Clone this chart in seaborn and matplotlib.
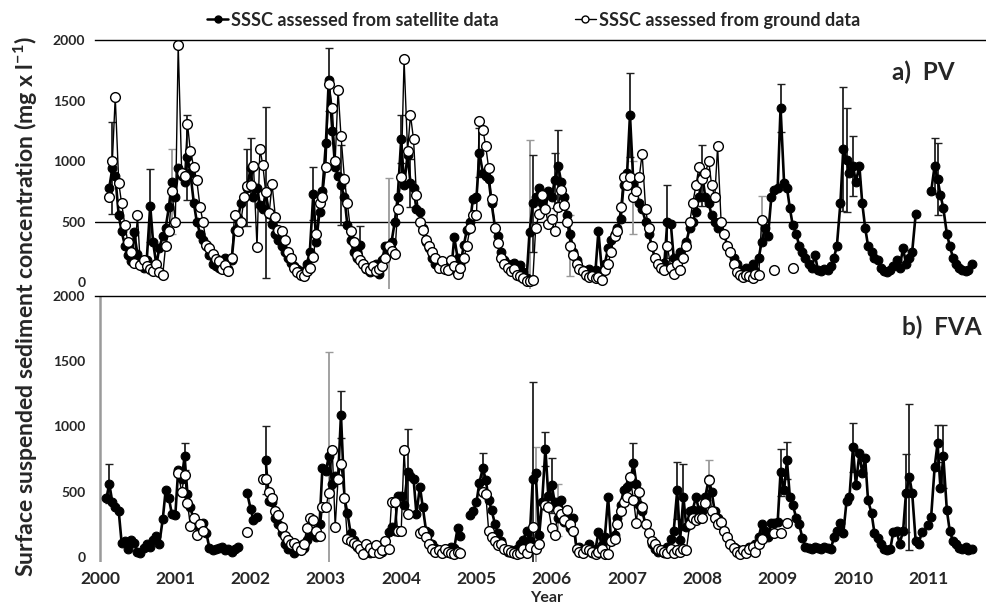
import numpy as np
import pandas as pd
import matplotlib
matplotlib.use('Agg')
import matplotlib.pyplot as plt
import seaborn as sns
from matplotlib.lines import Line2D

nan = np.nan

# semi-monthly sampling dates (1st and 15th of each month)
dates = pd.date_range('2000-01-01', '2011-08-01', freq='SMS')

# a) PV - SSSC from satellite data (mg/l)
pv_sat = [
    nan, nan, nan, 780, 940, 880, 550, 420, 300, 220, 170, 410, 230, 140, 120, 180, 630, 330, 140, 280, 380, 450, 620, 830,  # 2000
    700, 940, 880, 830, 1030, 900, 650, 500, 400, 350, 300, 220, 150, 130, 120, 140, 200, 110, 180, 430, 530, 650, 700, 780,  # 2001
    940, 700, 780, 640, 600, 740, 560, 480, 400, 350, 300, 250, 200, 160, 130, 110, 90, 70, 150, 250, 730, 330, 580, 750,  # 2002
    1150, 1670, 1250, 950, 880, 800, 700, 470, 350, 250, 200, 310, 150, 110, 80, 100, 150, 70, 180, 300, 260, 330, 500, 700,  # 2003
    1180, 800, 1050, 820, 780, 600, 580, 450, 330, 280, 200, 150, 160, 130, 140, 120, 110, 370, 200, 150, 310, 430, 500, 690,  # 2004
    700, 1070, 900, 880, 850, 650, 450, 380, 250, 180, 150, 130, 160, 110, 140, 80, 30, 410, 650, 700, 780, 650, 600, 750,  # 2005
    700, 840, 960, 830, 700, 550, 400, 250, 180, 120, 100, 90, 110, 80, 100, 420, 90, 150, 280, 350, 400, 450, 520, 800,  # 2006
    900, 1380, 800, 750, 650, 600, 500, 400, 300, 200, 150, 130, 160, 500, 480, 200, 130, 250, 200, 330, 450, 500, 580, 700,  # 2007
    880, 700, 650, 550, 500, 450, 500, 400, 300, 250, 200, 150, 100, 90, 120, 100, 150, 90, 200, 330, 450, 380, 700, 760,  # 2008
    780, 1440, 820, 780, 610, 470, 400, 300, 250, 200, 150, 120, 220, 100, 90, 110, 100, 130, 200, 300, 650, 1100, 1010, 900,  # 2009
    960, 830, 960, 650, 450, 300, 250, 200, 180, 120, 90, 80, 100, 130, 180, 120, 280, 150, 200, 250, 560, nan, nan, nan,  # 2010
    nan, 750, 960, 850, 720, 610, 400, 300, 200, 150, 120, 100, 90, 100, 150,  # 2011
]

# a) PV - SSSC from ground data
pv_gnd = [
    nan, nan, nan, 700, 1000, 1530, 820, 650, 470, 330, 250, 160, 550, 140, 180, 130, 110, 90, 150, 80, 60, 300, 420, 750,  # 2000
    500, 1960, 900, 880, 1310, 1080, 950, 840, 620, 500, 310, 280, 230, 190, 170, 110, 140, 90, 200, 550, 420, 500, 700, 790,  # 2001
    800, 960, 290, 1100, 970, 745, 570, 810, 540, 430, 420, 350, 250, 200, 120, 80, 60, 50, 90, 120, 210, 400, 650, 700,  # 2002
    950, 1640, 1440, 1000, 1590, 1210, 850, 650, 420, 330, 220, 180, 150, 120, 100, 130, 90, 110, 130, 200, 300, 260, 230, 600,  # 2003
    870, 1840, 1080, 1380, 1180, 720, 500, 430, 350, 300, 250, 200, 120, 170, 110, 100, 180, 130, 70, 120, 200, 300, 450, 550,  # 2004
    550, 1330, 1260, 1120, 940, 690, 445, 320, 200, 150, 120, 90, 110, 60, 50, 30, 10, 10, 20, 450, 560, 720, 600, 480,  # 2005
    520, 420, 620, 760, 640, 500, 300, 220, 150, 110, 90, 60, 40, 50, 30, 40, 20, 100, 150, 250, 380, 420, 620, 870,  # 2006
    800, 870, 700, 750, 870, 1060, 600, 450, 300, 200, 150, 120, 100, 300, 120, 70, 150, 100, 200, 300, 500, 650, 800, 950,  # 2007
    850, 900, 1000, 800, 700, 1120, 500, 400, 300, 250, 150, 80, 60, 40, 60, 50, 30, 70, 60, 510, nan, nan, nan, 100,  # 2008
    nan, nan, nan, nan, nan, 120] + [nan] * 18 + [nan] * 24 + [nan] * 15

# b) FVA - SSSC from satellite data
fva_sat = [
    nan, nan, 450, 560, 420, 380, 350, 110, 120, 60, 130, 110, 40, 30, 70, 100, 80, 130, 160, 100, 290, 510, 450, 330,  # 2000
    320, 670, 600, 770, 480, 380, 280, 250, 200, 260, 180, 70, 50, 60, 70, 80, 50, 60, 40, 60, 80, nan, nan, 490,  # 2001
    370, 280, 310, nan, nan, 740, 430, 420, 300, 250, 180, 100, 60, 80, 30, 60, 90, 70, 130, 170, 200, 150, 250, 680,  # 2002
    660, 770, 560, 620, 600, 1090, 450, 340, 180, 130, 80, 60, 40, 70, 30, 50, 60, 80, 40, 70, 190, 230, 200, 470,  # 2003
    470, 400, 650, 620, 600, 330, 540, 380, 200, 180, 100, 70, 50, 40, 60, 50, 80, 70, 220, 160, nan, nan, 320, 350,  # 2004
    420, 570, 680, 590, 440, 360, 250, 180, 120, 60, 40, 50, 30, 60, 100, 130, 200, 120, 600, 640, 170, 420, 830, 470,  # 2005
    550, 420, 300, 440, 270, 350, 220, 300, 60, 80, 40, 60, 100, 30, 60, 190, 90, 150, 460, 130, 170, 300, 400, 510,  # 2006
    540, 565, 720, 560, 400, 350, 250, 180, 100, 60, 40, 50, 30, 80, 140, 200, 510, 130, 460, 230, 350, 360, 460, 360,  # 2007
    350, 460, 600, 500, 350, 300, 250, 200, 150, 100, 80, 60, 40, 50, 30, 80, 60, 100, 150, 250, 200, 150, 260, 260,  # 2008
    270, 650, 510, 740, 460, 400, 300, 250, 145, 80, 70, 60, 80, 70, 60, 80, 70, 60, 150, 200, 260, 180, 430, 460,  # 2009
    840, 550, 795, 640, 760, 435, 335, 185, 145, 100, 60, 50, 60, 190, 200, 100, 200, 490, 615, 490, 120, 100, 190, nan,  # 2010
    245, 310, 690, 870, 530, 770, 360, 200, 120, 100, 70, 60, 80, 50, 60,  # 2011
]

# b) FVA - SSSC from ground data
fva_gnd = [nan] * 24 + [  # 2000
    nan, 640, 500, 630, 410, 240, 300, 170, 250, 200] + [nan] * 13 + [190] + [  # 2001
    nan, nan, nan, nan, 600, 600, 500, 450, 350, 320, 230, 160, 130, 100, 110, 80, 50, 100, 220, 300, 280, 200, 160, 380,  # 2002
    380, 490, 820, 230, 600, 710, 450, 140, 120, 110, 90, 60, 20, 100, 70, 40, 90, 30, 50, 120, 60, 420, 420, 200,  # 2003
    200, 820, 330, nan, nan, nan, 180, 200, 150, 100, 60, 40, 50, 30, 60, 40, 30, 20, 40, 30, nan, nan, nan, nan,  # 2004
    nan, nan, 500, 480, 200, 150, 120, 90, 100, 60, 50, 40, 30, 20, 30, 60, 30, 80, 230, 60, 100, nan, 400, 380,  # 2005
    220, 170, 360, 330, 280, 360, 250, 200, 60, 40, 30, 60, 50, 40, 20, 40, 60, 20, 20, 120, 140, 250, 350, 420,  # 2006
    460, 615, 440, 260, 500, 380, 250, 180, 120, 100, 60, 50, 40, 30, 60, 30, 50, 40, 60, 50, 250, 300, 280, 300,  # 2007
    300, 410, 590, 350, 300, 250, 270, 200, 150, 100, 70, 40, 20, 50, 30, 60, 80, 40, 100, 140, nan, nan, nan, 180,  # 2008
    nan, 180, nan, 260] + [nan] * 20 + [nan] * 24 + [nan] * 15

# the longer error bars (half widths, mg/l)
pv_sat_err_dates = ['2000-03-01', '2000-09-01', '2001-03-01', '2001-12-15', '2002-01-01', '2002-03-15',
                    '2002-11-01', '2003-01-15', '2003-03-15', '2003-06-15', '2004-01-01', '2004-02-15',
                    '2005-01-15', '2005-10-01', '2006-01-15', '2006-02-01', '2007-01-15', '2007-07-15',
                    '2008-01-01', '2009-01-15', '2009-11-15', '2009-12-01', '2010-01-01', '2011-02-01',
                    '2011-02-15']
pv_sat_err = [380, 300, 350, 320, 250, 710, 220, 260, 330, 150, 200, 200, 200, 400, 230, 300, 350, 300,
              250, 200, 510, 430, 250, 230, 300]
pv_gnd_err_dates = ['2000-12-15', '2003-11-01', '2005-09-15', '2007-02-01', '2006-04-01', '2008-10-15']
pv_gnd_err = [350, 560, 1160, 300, 250, 200]

fva_sat_err_dates = ['2000-02-15', '2001-02-15', '2002-03-15', '2003-03-15', '2004-02-01', '2005-02-01',
                     '2005-10-01', '2005-12-01', '2006-01-01', '2007-02-01', '2007-09-01', '2007-10-01',
                     '2009-01-15', '2009-02-15', '2010-01-01', '2010-09-15', '2010-10-01', '2011-02-15',
                     '2011-03-15']
fva_sat_err = [150, 100, 260, 180, 330, 120, 740, 130, 210, 150, 220, 250, 180, 140, 190, 300, 560, 140, 240]
fva_gnd_err_dates = ['2003-01-15', '2005-10-15', '2006-02-01', '2008-02-01']
fva_gnd_err = [1080, 780, 200, 150]

years = list(range(2000, 2012))

sns.set_style('white')
plt.rcParams['font.family'] = ['Lato', 'DejaVu Sans']
plt.rcParams['font.weight'] = 'bold'
plt.rcParams['mathtext.fontset'] = 'custom'
plt.rcParams['mathtext.rm'] = 'Lato:bold'
plt.rcParams['mathtext.default'] = 'rm'

t = dates.year + (dates.dayofyear - 1) / np.where(dates.is_leap_year, 366, 365)
t_ser = pd.Series(np.asarray(t), index=dates)

sat_style = dict(color='black', lw=1.9, marker='o', markersize=6.3, markerfacecolor='black',
                 markeredgecolor='black', markeredgewidth=0.8)
gnd_style = dict(color='black', lw=1.0, marker='o', markersize=7, markerfacecolor='white',
                 markeredgecolor='black', markeredgewidth=1.0)


def draw_series(ax, vals, style):
    df = pd.DataFrame({'t': np.asarray(t), 'v': vals})
    df['seg'] = df['v'].isna().cumsum()
    df = df.dropna()
    sns.lineplot(data=df, x='t', y='v', units='seg', estimator=None, sort=False,
                 legend=False, ax=ax, **style)


def draw_errors(ax, vals, err_dates, err_vals, color):
    s = pd.Series(vals, index=dates)
    idx = pd.to_datetime(err_dates)
    ax.errorbar(t_ser[idx].values, s[idx].values, yerr=err_vals, fmt='none', ecolor=color,
                elinewidth=1.3, capsize=3, capthick=1.0, zorder=1)


fig = plt.figure(figsize=(9.87, 6.07), dpi=100)
ax1 = fig.add_axes([0.0963, 0.5234, 0.9037, 0.4107])
ax2 = fig.add_axes([0.0963, 0.0738, 0.9037, 0.4386])

for ax, sat, gnd, se_d, se, ge_d, ge, ymin in [
        (ax1, pv_sat, pv_gnd, pv_sat_err_dates, pv_sat_err, pv_gnd_err_dates, pv_gnd_err, -60),
        (ax2, fva_sat, fva_gnd, fva_sat_err_dates, fva_sat_err, fva_gnd_err_dates, fva_gnd_err, -40)]:
    draw_errors(ax, gnd, ge_d, ge, '#9a9a9a')
    draw_errors(ax, sat, se_d, se, '#202020')
    draw_series(ax, sat, sat_style)
    draw_series(ax, gnd, gnd_style)
    ax.set_xlim(1999.934, 2011.78)
    ax.set_ylim(ymin, 2000)
    ax.set_yticks([0, 500, 1000, 1500, 2000])
    ax.set_xlabel('')
    ax.set_ylabel('')
    for side in ['left', 'right', 'bottom']:
        ax.spines[side].set_visible(False)
    ax.spines['top'].set_color('black')
    ax.spines['top'].set_linewidth(1.0)
    ax.tick_params(axis='y', length=0, pad=7, labelsize=10)

ax1.axhline(500, color='black', lw=1.0, zorder=0)
ax1.set_xticks([])
ax2.axvline(2000, color='#9a9a9a', lw=1.8, zorder=0)
ax2.set_xticks(years)
ax2.set_xticklabels([str(y) for y in years])
ax2.tick_params(axis='x', direction='in', length=6, width=1.5, color='#aaaaaa',
                labelsize=12.5, pad=6)
for lab in ax1.get_yticklabels() + ax2.get_yticklabels() + ax2.get_xticklabels():
    lab.set_fontweight('bold')

ax1.text(0.964, 0.872, 'a)  PV', transform=ax1.transAxes, ha='right', va='center',
         fontsize=17.5, fontweight='bold')
ax2.text(0.994, 0.884, 'b)  FVA', transform=ax2.transAxes, ha='right', va='center',
         fontsize=17.5, fontweight='bold')

fig.text(0.026, 0.495, 'Surface suspended sediment concentration (mg x l$^{-1}$)', rotation=90,
         ha='center', va='center', fontsize=16.6, fontweight='bold')
fig.text(0.554, 0.003, 'Year', ha='center', va='bottom', fontsize=11.5, fontweight='bold')

handles = [Line2D([], [], color='black', lw=1.8, marker='o', markersize=5,
                  markerfacecolor='black'),
           Line2D([], [], color='black', lw=1.0, marker='o', markersize=5,
                  markerfacecolor='white')]
fig.legend(handles, ['SSSC assessed from satellite data', 'SSSC assessed from ground data'],
           loc='center', bbox_to_anchor=(0.5405, 0.967), ncol=2, frameon=False,
           handlelength=1.2, handletextpad=0.15, columnspacing=4.2,
           prop=dict(family=['Lato'], weight='bold', size=13))

fig.savefig('out.png', dpi=100)
